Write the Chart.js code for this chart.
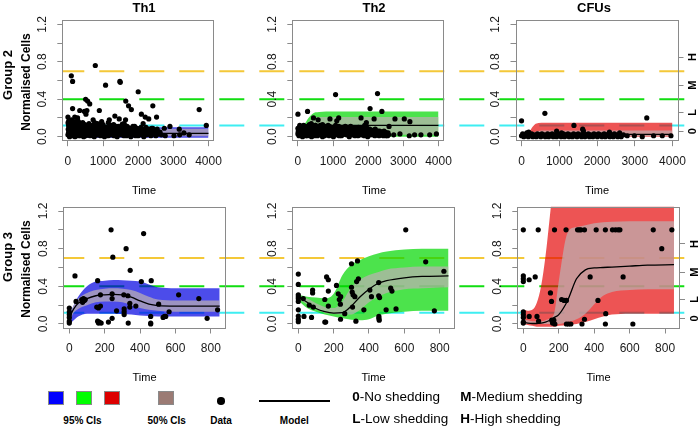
<!DOCTYPE html>
<html>
<head>
<meta charset="utf-8">
<script src="https://cdn.jsdelivr.net/npm/chart.js@4.4.1/dist/chart.umd.min.js"></script>
<style>
html,body{margin:0;padding:0;}
body{width:700px;height:427px;position:relative;overflow:hidden;background:#fff;font-family:"Liberation Sans",Arial,sans-serif;color:#000;}
canvas{position:absolute;}
.lbl{position:absolute;white-space:nowrap;line-height:1;transform:translate(-50%,-50%);}
.rot{transform:translate(-50%,-50%) rotate(-90deg);}
.b{font-weight:bold;}
.sw{position:absolute;box-sizing:border-box;border:1px solid #8a8a8a;width:16px;height:14px;top:391.3px;}
.leg{position:absolute;font-size:13.5px;white-space:nowrap;line-height:1;transform:translateY(-50%);}
</style>
</head>
<body>
<div class="lbl b" style="left:144px;top:7px;font-size:13px">Th1</div>
<div class="lbl b" style="left:374px;top:7px;font-size:13px">Th2</div>
<div class="lbl b" style="left:594px;top:7px;font-size:13px">CFUs</div>
<div class="lbl b rot" style="left:7px;top:75px;font-size:13px">Group 2</div>
<div class="lbl b rot" style="left:26px;top:82px;font-size:12px">Normalised Cells</div>
<div class="lbl b rot" style="left:7px;top:257px;font-size:13px">Group 3</div>
<div class="lbl b rot" style="left:26px;top:269px;font-size:12px">Normalised Cells</div>
<div class="lbl" style="left:144px;top:189.5px;font-size:11px">Time</div>
<div class="lbl" style="left:374px;top:189.5px;font-size:11px">Time</div>
<div class="lbl" style="left:597px;top:189.5px;font-size:11px">Time</div>
<div class="lbl" style="left:144.5px;top:376.5px;font-size:11px">Time</div>
<div class="lbl" style="left:373.5px;top:376.5px;font-size:11px">Time</div>
<div class="lbl" style="left:598.5px;top:376.5px;font-size:11px">Time</div>

<div class="sw" style="left:48.3px;background:#0000ff"></div>
<div class="sw" style="left:75.7px;background:#00ff00"></div>
<div class="sw" style="left:104px;background:#dd0000"></div>
<div class="sw" style="left:157.6px;background:#9b7b74"></div>
<div style="position:absolute;left:217.3px;top:397.3px;width:7.5px;height:7.5px;border-radius:50%;background:#000"></div>
<div style="position:absolute;left:258.7px;top:400.3px;width:71.7px;height:1.6px;background:#000"></div>
<div class="lbl b" style="left:82.5px;top:420.8px;font-size:10px">95% CIs</div>
<div class="lbl b" style="left:166.7px;top:420.8px;font-size:10px">50% CIs</div>
<div class="lbl b" style="left:221px;top:420.8px;font-size:10px">Data</div>
<div class="lbl b" style="left:294.3px;top:420.8px;font-size:10px">Model</div>
<div class="leg" style="left:352.3px;top:396.5px"><b>0</b>-No shedding</div>
<div class="leg" style="left:460.2px;top:396.5px"><b>M</b>-Medium shedding</div>
<div class="leg" style="left:352.3px;top:419px"><b>L</b>-Low shedding</div>
<div class="leg" style="left:460.2px;top:419px"><b>H</b>-High shedding</div>

<script>
// ---------- tick values / labels ----------
const topTicksX = [0, 1000, 2000, 3000, 4000];
const botTicksX = [0, 200, 400, 600, 800];
const yTicks = [0, 0.2, 0.4, 0.6, 0.8, 1.0, 1.2];
const yLabelTicks = [0, 0.4, 0.8, 1.2];
const shedTicks = [0.06, 0.26, 0.55, 0.85];
const shedLabels = ['0', 'L', 'M', 'H'];
const thresholds = [0.7, 0.4, 0.12];
const thresholdColors = ['#f4c838', '#11dd11', '#3eeef2'];

// ---------- Group 2 (top row) ----------
const g2T_th1 = [0, 100, 200, 400, 700, 1000, 1500, 2000, 3000, 4000];
const g2Hi95_th1 = [0.10, 0.14, 0.13, 0.12, 0.11, 0.10, 0.10, 0.10, 0.10, 0.10];
const g2Lo95_th1 = [-0.01, -0.01, -0.01, -0.01, -0.01, -0.01, -0.01, -0.01, -0.01, -0.01];
const g2Hi50_th1 = [0.06, 0.09, 0.09, 0.085, 0.085, 0.085, 0.085, 0.085, 0.085, 0.085];
const g2Lo50_th1 = [0.005, 0.01, 0.01, 0.005, 0.005, 0.005, 0.005, 0.005, 0.005, 0.005];
const g2Model_th1 = [0.035, 0.05, 0.05, 0.045, 0.04, 0.038, 0.037, 0.036, 0.036, 0.036];
const g2Pts_th1 = [
 [0,0.21],[97,0.65],[133,0.59],[133,0.30],[195,0.21],[274,0.17],[336,0.28],[274,0.20],[470,0.27],[504,0.40],[513,0.24],[540,0.28],[560,0.38],[620,0.35],[717,0.18],[779,0.76],[840,0.14],[894,0.28],[1000,0.13],[1071,0.55],[1177,0.18],[1240,0.12],[1336,0.22],[1370,0.11],[1460,0.19],[1478,0.59],[1490,0.58],[1550,0.135],[1640,0.18],[1646,0.38],[1725,0.33],[1805,0.29],[1900,0.11],[2000,0.48],[2090,0.24],[2140,0.14],[2200,0.21],[2200,0.06],[2300,0.19],[2416,0.33],[2416,0.09],[2490,0.04],[2522,0.21],[2743,0.09],[2770,0.01],[2903,0.11],[3018,0.01],[3168,0.08],[3180,0.02],[3300,0.04],[3450,0.02],[3735,0.29],[3938,0.12],
 [5,0.15],[15,0.13],[25,0.17],[40,0.14],[55,0.16],[70,0.13],[85,0.15],[100,0.18],[120,0.12],[150,0.14],[170,0.16],[190,0.13],[230,0.15],[260,0.13],[300,0.16],[350,0.14],[420,0.15],[480,0.13],[600,0.14],[700,0.12],[760,0.15],[900,0.13],[960,0.16],[1150,0.15],[1300,0.13],[1600,0.14],
 [0,0.02],[10,0.08],[20,0.12],[30,0.05],[45,0.00],[60,0.10],[75,0.03],[90,0.07],[110,0.11],[125,0.01],[140,0.06],[160,0.09],[180,0.04],[200,0.00],[220,0.12],[245,0.07],[270,0.02],[290,0.10],[310,0.05],[335,0.08],[360,0.01],[380,0.11],[400,0.04],[425,0.06],[450,0.00],[470,0.09],[490,0.03],[515,0.12],[540,0.06],[560,0.02],[585,0.08],[610,0.10],[630,0.01],[655,0.05],[680,0.11],[700,0.03],[725,0.07],[750,0.00],[770,0.09],[800,0.04],[825,0.12],[850,0.02],[875,0.06],[900,0.10],[925,0.01],[950,0.08],[980,0.04],[1010,0.11],[1040,0.00],[1070,0.07],[1100,0.03],[1130,0.09],[1160,0.05],[1190,0.12],[1220,0.02],[1250,0.06],[1280,0.10],[1310,0.01],[1340,0.08],[1370,0.04],[1400,0.00],[1430,0.11],[1460,0.05],[1490,0.07],[1520,0.02],[1550,0.09],[1580,0.03],[1610,0.12],[1640,0.06],[1670,0.01],[1700,0.10],[1730,0.04],[1760,0.08],[1790,0.00],[1820,0.05],[1850,0.11],[1880,0.02],[1910,0.07],[1940,0.03],[1970,0.09],[2000,0.01],[2040,0.06],[2080,0.10],[2120,0.04],[2160,0.00],[2200,0.08],[2240,0.02],[2280,0.07],[2320,0.05],[2360,0.01],[2400,0.06],[2440,0.03],[2480,0.04],[2520,0.02],[2560,0.05],
 [15,0.04],[35,0.09],[50,0.06],[65,0.01],[80,0.11],[100,0.05],[130,0.08],[150,0.03],[170,0.12],[190,0.07],[210,0.02],[235,0.10],[255,0.04],[280,0.08],[300,0.01],[320,0.11],[345,0.03],[370,0.07],[390,0.09],[415,0.02],[440,0.10],[460,0.05],[480,0.08],[505,0.01],[530,0.10],[550,0.04],[575,0.11],[595,0.05],[620,0.07],[645,0.03],[670,0.09],[690,0.06],[715,0.01],[740,0.10],[760,0.05],[790,0.08],[815,0.02],[840,0.07],[865,0.11],[890,0.04],[915,0.09],[940,0.02],[965,0.11],[995,0.06],[1025,0.09],[1055,0.03],[1085,0.10],[1115,0.06],[1145,0.01],[1175,0.08],[1205,0.04],[1235,0.10],[1265,0.03],[1295,0.07],[1325,0.11],[1355,0.02],[1385,0.09],[1415,0.06],[1445,0.02],[1475,0.10],[1505,0.05],[1535,0.12],[1565,0.06],[1595,0.01],[1625,0.08],[1655,0.04],[1685,0.11],[1715,0.07],[1745,0.02],[1775,0.09],[1805,0.05],[1835,0.08],[1865,0.06],[1895,0.10],[1925,0.01],[1955,0.05],[1985,0.07],[2020,0.03],[2060,0.09],[2100,0.02],[2140,0.07],[2180,0.05],[2220,0.10],[2260,0.04],[2300,0.08],[2340,0.02],[2380,0.09],[2420,0.04],[2460,0.07],[2500,0.01],[2540,0.08],[2580,0.03],[2620,0.05],[2660,0.02]
];

const g2T_th2 = [0, 100, 200, 300, 400, 500, 600, 800, 1000, 2000, 4000];
const g2Hi95_th2 = [0.08, 0.10, 0.14, 0.20, 0.24, 0.26, 0.265, 0.27, 0.27, 0.27, 0.27];
const g2Lo95_th2 = [0.0, 0.0, 0.0, 0.0, 0.0, 0.0, 0.0, 0.0, 0.0, 0.0, 0.0];
const g2Hi50_th2 = [0.07, 0.08, 0.11, 0.16, 0.19, 0.205, 0.21, 0.21, 0.21, 0.21, 0.21];
const g2Lo50_th2 = [0.02, 0.02, 0.02, 0.02, 0.02, 0.02, 0.02, 0.02, 0.02, 0.02, 0.02];
const g2Model_th2 = [0.05, 0.06, 0.08, 0.10, 0.11, 0.115, 0.12, 0.12, 0.12, 0.12, 0.12];
const g2Pts_th2 = [
 [0,0.24],[0,0.09],[40,0.06],[274,0.27],[380,0.14],[442,0.20],[500,0.12],[575,0.18],[700,0.13],[820,0.10],[912,0.19],[1071,0.45],[1106,0.17],[1160,0.20],[1300,0.09],[1500,0.11],[1796,0.20],[1900,0.12],[1947,0.15],[1947,0.11],[2053,0.30],[2168,0.19],[2200,0.08],[2265,0.46],[2389,0.27],[2450,0.06],[2500,0.03],[2593,0.11],[2726,0.02],[2761,0.19],[2903,0.03],[3027,0.19],[3186,0.16],[3168,0.01],[3320,0.02],[3500,0.02],[3750,0.02],[3940,0.03],
 [0,0.03],[15,0.07],[30,0.01],[45,0.10],[60,0.05],[80,0.02],[95,0.08],[115,0.04],[130,0.00],[150,0.09],[170,0.06],[185,0.02],[205,0.11],[225,0.04],[245,0.07],[265,0.01],[285,0.09],[305,0.05],[325,0.13],[345,0.03],[365,0.08],[390,0.00],[410,0.06],[430,0.10],[455,0.02],[475,0.07],[495,0.12],[520,0.04],[540,0.09],[560,0.01],[585,0.06],[605,0.11],[630,0.03],[650,0.08],[675,0.05],[700,0.00],[720,0.10],[745,0.04],[770,0.07],[790,0.02],[815,0.09],[840,0.05],[860,0.12],[885,0.01],[910,0.06],[935,0.09],[960,0.03],[985,0.07],[1010,0.00],[1035,0.10],[1060,0.05],[1085,0.08],[1110,0.02],[1135,0.06],[1160,0.11],[1185,0.04],[1210,0.08],[1235,0.01],[1260,0.07],[1285,0.10],[1310,0.03],[1335,0.06],[1360,0.09],[1385,0.02],[1410,0.05],[1435,0.08],[1460,0.00],[1485,0.04],[1510,0.07],[1535,0.10],[1560,0.02],[1585,0.06],[1610,0.09],[1635,0.03],[1660,0.05],[1685,0.08],[1710,0.01],[1735,0.06],[1760,0.04],[1785,0.09],[1810,0.02],[1835,0.07],[1860,0.05],[1885,0.01],[1910,0.08],[1935,0.03],[1960,0.06],[1985,0.00],[2010,0.04],[2040,0.08],[2070,0.02],[2100,0.06],[2130,0.03],[2160,0.07],[2190,0.01],[2220,0.05],[2250,0.03],[2280,0.06],[2310,0.01],[2340,0.04],[2370,0.02],[2400,0.05],[2430,0.01],[2460,0.03],[2490,0.02],[2520,0.04],[2550,0.01],[2580,0.02],
 [8,0.05],[22,0.09],[38,0.04],[52,0.12],[70,0.07],[88,0.03],[105,0.10],[122,0.06],[140,0.02],[160,0.12],[178,0.04],[195,0.08],[215,0.01],[235,0.09],[255,0.05],[275,0.11],[295,0.03],[315,0.07],[335,0.10],[355,0.01],[378,0.05],[400,0.12],[420,0.03],[442,0.08],[465,0.05],[485,0.01],[508,0.09],[530,0.06],[550,0.02],[572,0.10],[595,0.04],[618,0.07],[640,0.12],[662,0.02],[688,0.09],[710,0.05],[732,0.07],[757,0.01],[780,0.11],[802,0.05],[828,0.03],[850,0.08],[872,0.06],[898,0.11],[922,0.03],[948,0.05],[972,0.10],[998,0.04],[1022,0.07],[1048,0.02],[1072,0.12],[1098,0.06],[1122,0.04],[1148,0.09],[1172,0.01],[1198,0.06],[1222,0.10],[1248,0.04],[1272,0.02],[1298,0.08],[1322,0.05],[1348,0.11],[1372,0.06],[1398,0.03],[1422,0.10],[1448,0.05],[1472,0.07],[1498,0.02],[1522,0.09],[1548,0.05],[1572,0.03],[1598,0.07],[1622,0.01],[1648,0.09],[1672,0.04],[1698,0.06],[1722,0.10],[1748,0.02],[1772,0.07],[1798,0.05],[1822,0.09],[1848,0.03],[1872,0.06],[1898,0.02],[1922,0.09],[1948,0.04],[1972,0.07],[1998,0.02],[2025,0.06],[2055,0.03],[2085,0.07],[2115,0.04],[2145,0.02],[2175,0.06],[2205,0.03],[2235,0.06],[2265,0.02],[2295,0.04],[2325,0.06],[2355,0.03],[2385,0.05],[2415,0.02],[2445,0.04],[2475,0.05],[2505,0.01],[2535,0.03],[2565,0.04]
];

const g2T_cfu = [0, 150, 250, 350, 450, 600, 1000, 2000, 4000];
const g2Hi95_cfu = [0.0, 0.02, 0.08, 0.13, 0.145, 0.15, 0.15, 0.15, 0.15];
const g2Lo95_cfu = [0.0, 0.0, 0.0, 0.0, 0.0, 0.0, 0.0, 0.0, 0.0];
const g2Hi50_cfu = [0.0, 0.01, 0.03, 0.05, 0.06, 0.065, 0.065, 0.065, 0.065];
const g2Lo50_cfu = [0.0, 0.0, 0.0, 0.0, 0.005, 0.005, 0.005, 0.005, 0.005];
const g2Model_cfu = [0.01, 0.01, 0.015, 0.02, 0.025, 0.025, 0.025, 0.025, 0.025];
const g2Pts_cfu = [
 [0,0.17],[140,0.04],[190,0.05],[619,0.25],[930,0.06],[1060,0.04],[1389,0.12],[1620,0.08],[1640,0.06],[2330,0.05],[2600,0.04],[3319,0.20],[2700,0.02],[2800,0.01],[2990,0.01],[3200,0.0],[3500,0.01],[3730,0.01],[3960,0.01],
 [0,0.01],[30,0.03],[60,0.0],[90,0.02],[120,0.01],[150,0.03],[180,0.0],[210,0.02],[240,0.01],[270,0.03],[300,0.0],[330,0.02],[360,0.01],[390,0.0],[420,0.03],[450,0.01],[480,0.02],[510,0.0],[540,0.03],[570,0.01],[600,0.02],[630,0.0],[660,0.01],[690,0.03],[720,0.0],[750,0.02],[780,0.01],[810,0.03],[840,0.0],[870,0.02],[900,0.01],[930,0.0],[960,0.03],[990,0.01],[1020,0.02],[1050,0.0],[1080,0.01],[1110,0.03],[1140,0.0],[1170,0.02],[1200,0.01],[1230,0.03],[1260,0.0],[1290,0.02],[1320,0.01],[1350,0.0],[1380,0.03],[1410,0.01],[1440,0.02],[1470,0.0],[1500,0.03],[1530,0.01],[1560,0.02],[1590,0.0],[1620,0.01],[1650,0.03],[1680,0.0],[1710,0.02],[1740,0.01],[1770,0.03],[1800,0.0],[1830,0.02],[1860,0.01],[1890,0.0],[1920,0.03],[1950,0.01],[1980,0.02],[2010,0.0],[2040,0.03],[2070,0.01],[2100,0.02],[2130,0.0],[2160,0.01],[2190,0.03],[2220,0.0],[2250,0.02],[2280,0.01],[2310,0.03],[2340,0.0],[2370,0.02],[2400,0.01],[2430,0.0],[2460,0.03],[2490,0.01],[2520,0.02],[2550,0.0],[2580,0.01],[2610,0.02],[2640,0.0]
];

// ---------- Group 3 (bottom row) ----------
const g3T_th1 = [0, 25, 50, 100, 150, 200, 250, 300, 350, 400, 450, 500, 600, 700, 850];
const g3Hi95_th1 = [0.10, 0.20, 0.29, 0.40, 0.45, 0.46, 0.467, 0.465, 0.46, 0.45, 0.42, 0.39, 0.38, 0.38, 0.38];
const g3Lo95_th1 = [0.0, 0.04, 0.08, 0.11, 0.11, 0.11, 0.11, 0.105, 0.10, 0.09, 0.085, 0.08, 0.08, 0.08, 0.08];
const g3Hi50_th1 = [0.06, 0.20, 0.27, 0.33, 0.36, 0.375, 0.38, 0.375, 0.36, 0.33, 0.29, 0.26, 0.25, 0.25, 0.25];
const g3Lo50_th1 = [0.03, 0.12, 0.16, 0.20, 0.23, 0.24, 0.24, 0.23, 0.20, 0.17, 0.15, 0.14, 0.13, 0.13, 0.13];
const g3Model_th1 = [0.07, 0.16, 0.22, 0.27, 0.30, 0.31, 0.315, 0.31, 0.285, 0.245, 0.21, 0.195, 0.19, 0.19, 0.19];
const g3Pts_th1 = [
 [0,0.17],[0,0.13],[0,0.10],[0,0.07],[0,0.03],[0,0.01],
 [32,0.51],[38,0.24],[70,0.26],[75,0.23],[80,0.27],[85,0.25],[90,0.26],
 [160,0.46],[155,0.18],[165,0.17],[160,0.03],[165,0.01],[170,0.02],[180,0.01],[176,0.19],[176,0.31],
 [221,0.02],[236,1.0],[246,0.71],[242,0.32],[242,0.27],[242,0.06],[267,0.14],
 [308,0.31],[310,0.16],[310,0.13],[310,0.10],[321,0.80],[344,0.57],[331,0.30],[342,0.22],[342,0.18],[333,0.01],
 [376,0.19],[407,0.45],[420,0.96],[463,0.46],[460,0.08],[460,0.01],[460,0.0],[505,0.21],[530,0.07],[538,0.08],[545,0.08],[564,0.13],[618,0.31],[732,0.27],[779,0.06],[838,0.15]
];

const g3T_th2 = [0, 50, 100, 150, 200, 250, 300, 350, 400, 450, 500, 600, 700, 850];
const g3Hi95_th2 = [0.31, 0.29, 0.28, 0.27, 0.32, 0.52, 0.63, 0.68, 0.72, 0.75, 0.77, 0.79, 0.80, 0.80];
const g3Lo95_th2 = [0.25, 0.17, 0.13, 0.10, 0.08, 0.06, 0.045, 0.04, 0.05, 0.09, 0.11, 0.13, 0.14, 0.14];
const g3Hi50_th2 = [0.29, 0.27, 0.22, 0.18, 0.17, 0.24, 0.39, 0.47, 0.52, 0.55, 0.58, 0.60, 0.61, 0.61];
const g3Lo50_th2 = [0.27, 0.21, 0.16, 0.12, 0.11, 0.10, 0.10, 0.15, 0.23, 0.29, 0.33, 0.37, 0.38, 0.39];
const g3Model_th2 = [0.29, 0.23, 0.165, 0.13, 0.115, 0.12, 0.19, 0.29, 0.37, 0.43, 0.46, 0.49, 0.505, 0.51];
const g3Pts_th2 = [
 [0,0.53],[0,0.42],[0,0.31],[0,0.29],[0,0.27],[0,0.24],[0,0.15],[0,0.085],[0,0.05],[0,0.025],
 [28,0.27],[32,0.08],[62,0.20],[75,0.07],[81,0.36],[81,0.33],[85,0.18],
 [150,0.02],[155,0.02],[150,0.26],[160,0.50],[170,0.47],[170,0.35],[170,0.19],
 [216,0.41],[226,0.32],[232,0.26],[238,0.21],[240,0.29],[239,0.05],[263,0.11],
 [301,0.64],[301,0.39],[305,0.34],[310,0.31],[307,0.18],[326,0.03],[330,0.45],[340,0.48],[335,0.67],[320,0.29],
 [371,0.15],[405,0.36],[414,0.29],[455,0.44],[455,0.30],[460,0.28],[456,0.08],[456,0.06],[458,0.04],
 [497,0.15],[523,0.38],[530,0.35],[553,0.16],[608,1.0],[721,0.66],[770,0.14],[824,0.56]
];

const g3T_cfu = [0, 25, 50, 75, 100, 125, 150, 175, 200, 250, 300, 350, 400, 450, 500, 600, 700, 850];
const g3Hi95_cfu = [0.15, 0.14, 0.15, 0.22, 0.40, 0.72, 1.15, 1.60, 1.90, 2.0, 2.0, 2.0, 2.0, 2.0, 2.0, 2.0, 2.0, 2.0];
const g3Lo95_cfu = [0.0, -0.01, -0.02, -0.03, -0.03, -0.03, -0.03, -0.03, -0.02, -0.01, 0.0, 0.02, 0.05, 0.08, 0.10, 0.11, 0.11, 0.11];
const g3Hi50_cfu = [0.05, 0.04, 0.03, 0.03, 0.03, 0.04, 0.06, 0.12, 0.45, 0.97, 1.03, 1.05, 1.07, 1.08, 1.085, 1.09, 1.09, 1.09];
const g3Lo50_cfu = [0.0, 0.0, 0.0, 0.0, 0.0, 0.0, 0.0, 0.0, 0.0, 0.02, 0.05, 0.11, 0.21, 0.30, 0.34, 0.36, 0.37, 0.37];
const g3Model_cfu = [0.02, 0.01, 0.005, 0.005, 0.01, 0.02, 0.04, 0.07, 0.10, 0.25, 0.48, 0.575, 0.595, 0.60, 0.605, 0.615, 0.625, 0.63];
const g3Pts_cfu = [
 [0,1.0],[0,0.51],[0,0.48],[0,0.45],[0,0.13],[0,0.10],[0,0.07],[0,0.02],[0,0.01],
 [33,0.08],[33,0.47],[67,0.50],[77,0.08],[84,1.0],[86,0.03],
 [153,0.33],[159,0.24],[160,0.04],[165,0.01],[172,0.04],[178,0.0],[176,1.0],
 [216,0.26],[230,0.25],[243,0.25],[241,1.0],[243,0.0],[255,0.0],[268,0.0],
 [306,1.0],[316,1.0],[325,1.0],[345,1.0],[331,0.0],[345,0.05],[377,0.50],
 [411,1.0],[421,0.25],[463,1.0],[465,0.11],[463,0.0],
 [503,1.0],[520,1.0],[535,1.0],[545,1.0],[563,0.50],[618,0.0],[733,1.0],[781,0.80],[838,1.0]
];

// ---------- styling ----------
const blue95 = 'rgba(0,0,225,0.70)';
const green95 = 'rgba(0,215,0,0.70)';
const red95 = 'rgba(228,0,0,0.67)';
const ci50 = 'rgba(188,176,178,0.72)';
const axisGray = '#8a8a8a';
const textCol = '#1a1a1a';

const panels = [
 {left:0,   top:0,   w:230, h:200, area:{l:62.3,r:225.7,t:19.8,b:141.2}, xr:[-160,4160], xt:topTicksX, T:g2T_th1, hi95:g2Hi95_th1, lo95:g2Lo95_th1, hi50:g2Hi50_th1, lo50:g2Lo50_th1, model:g2Model_th1, pts:g2Pts_th1, color:blue95, start:'area', shed:false},
 {left:230, top:0,   w:230, h:200, area:{l:62.3,r:225.7,t:19.8,b:141.2}, xr:[-160,4160], xt:topTicksX, T:g2T_th2, hi95:g2Hi95_th2, lo95:g2Lo95_th2, hi50:g2Hi50_th2, lo50:g2Lo50_th2, model:g2Model_th2, pts:g2Pts_th2, color:green95, start:0, shed:false},
 {left:460, top:0,   w:240, h:200, area:{l:55.5,r:218.5,t:19.8,b:141.2}, xr:[-160,4160], xt:topTicksX, T:g2T_cfu, hi95:g2Hi95_cfu, lo95:g2Lo95_cfu, hi50:g2Hi50_cfu, lo50:g2Lo50_cfu, model:g2Model_cfu, pts:g2Pts_cfu, color:red95, start:0, shed:true},
 {left:0,   top:200, w:230, h:190, area:{l:63.3,r:225.7,t:6.5,b:128.5}, xr:[-34,884], xt:botTicksX, T:g3T_th1, hi95:g3Hi95_th1, lo95:g3Lo95_th1, hi50:g3Hi50_th1, lo50:g3Lo50_th1, model:g3Model_th1, pts:g3Pts_th1, color:blue95, start:'area', shed:false},
 {left:230, top:200, w:230, h:190, area:{l:62.3,r:224.5,t:6.5,b:128.5}, xr:[-34,884], xt:botTicksX, T:g3T_th2, hi95:g3Hi95_th2, lo95:g3Lo95_th2, hi50:g3Hi50_th2, lo50:g3Lo50_th2, model:g3Model_th2, pts:g3Pts_th2, color:green95, start:0, shed:false},
 {left:460, top:200, w:240, h:190, area:{l:57.3,r:220,t:6.5,b:128.5}, xr:[-34,884], xt:botTicksX, T:g3T_cfu, hi95:g3Hi95_cfu, lo95:g3Lo95_cfu, hi50:g3Hi50_cfu, lo50:g3Lo50_cfu, model:g3Model_cfu, pts:g3Pts_cfu, color:red95, start:0, shed:true}
];

const decoPlugin = {
  id: 'deco',
  beforeDatasetsDraw(chart, args, o) {
    const ctx = chart.ctx, a = chart.chartArea, ys = chart.scales.y;
    const x0 = o.start === 'area' ? a.left : 0;
    const x1 = o.end;
    ctx.save();
    ctx.lineWidth = 2;
    ctx.setLineDash([25, 15]);
    ctx.lineDashOffset = (((o.pageLeft + x0 - 19.3) % 40) + 40) % 40;
    thresholds.forEach((v, i) => {
      const py = ys.getPixelForValue(v);
      ctx.strokeStyle = thresholdColors[i];
      ctx.beginPath(); ctx.moveTo(x0, py); ctx.lineTo(x1, py); ctx.stroke();
    });
    ctx.restore();
  },
  afterDraw(chart, args, o) {
    const ctx = chart.ctx, a = chart.chartArea, ys = chart.scales.y;
    ctx.save();
    ctx.strokeStyle = axisGray; ctx.lineWidth = 1; ctx.setLineDash([]);
    const L = Math.round(a.left) + 0.5, R = Math.round(a.right) - 0.5, T = Math.round(a.top) + 0.5, B = Math.round(a.bottom) - 0.5;
    ctx.strokeRect(L, T, R - L, B - T);
    ctx.fillStyle = textCol;
    ctx.textAlign = 'center'; ctx.textBaseline = 'middle';
    ctx.font = '12px "Liberation Sans"';
    yLabelTicks.forEach(v => {
      ctx.save();
      ctx.translate(a.left - 19.5, ys.getPixelForValue(v));
      ctx.rotate(-Math.PI / 2);
      ctx.fillText(v.toFixed(1), 0, 0);
      ctx.restore();
    });
    if (o.shed) {
      ctx.font = 'bold 11px "Liberation Sans"';
      ctx.fillStyle = '#000';
      shedTicks.forEach((v, i) => {
        ctx.save();
        ctx.translate(a.right + 14.5, chart.scales.y2.getPixelForValue(v));
        ctx.rotate(-Math.PI / 2);
        ctx.fillText(shedLabels[i], 0, 0);
        ctx.restore();
      });
    }
    ctx.restore();
  }
};

panels.forEach(p => {
  const cv = document.createElement('canvas');
  cv.width = p.w; cv.height = p.h;
  cv.style.left = p.left + 'px'; cv.style.top = p.top + 'px';
  cv.style.width = p.w + 'px'; cv.style.height = p.h + 'px';
  document.body.insertBefore(cv, document.body.firstChild);
  const series = arr => p.T.map((t, i) => ({x: t, y: arr[i]}));
  const hidden = {borderColor: 'rgba(0,0,0,0)', borderWidth: 0, pointRadius: 0, fill: false, cubicInterpolationMode: 'monotone'};
  const datasets = [
    Object.assign({}, hidden, {data: series(p.lo95), order: 3}),
    Object.assign({}, hidden, {data: series(p.hi95), order: 3, fill: '-1', backgroundColor: p.color}),
    Object.assign({}, hidden, {data: series(p.lo50), order: 2}),
    Object.assign({}, hidden, {data: series(p.hi50), order: 2, fill: '-1', backgroundColor: ci50}),
    {data: series(p.model), order: 1, borderColor: '#000', borderWidth: 1.3, pointRadius: 0, fill: false, cubicInterpolationMode: 'monotone'},
    {data: p.pts.map(([x, y]) => ({x, y})), order: 0, showLine: false, pointRadius: 2.6, pointBackgroundColor: '#000', pointBorderWidth: 0, borderColor: '#000', backgroundColor: '#000', fill: false}
  ];
  const tickGrid = {drawOnChartArea: false, drawTicks: true, tickLength: 5, color: axisGray, lineWidth: 1};
  const scales = {
    x: {type: 'linear', min: p.xr[0], max: p.xr[1],
        afterBuildTicks: s => { s.ticks = p.xt.map(v => ({value: v})); },
        afterFit: s => { s.height = p.h - p.area.b; },
        ticks: {autoSkip: false, maxRotation: 0, minRotation: 0, padding: 8, color: textCol, font: {size: 12, family: 'Liberation Sans'}, callback: v => String(v)},
        grid: tickGrid, border: {display: false}},
    y: {type: 'linear', min: -0.048, max: 1.248,
        afterBuildTicks: s => { s.ticks = yTicks.map(v => ({value: v})); },
        afterFit: s => { s.width = p.area.l; },
        ticks: {display: false}, grid: tickGrid, border: {display: false}}
  };
  if (p.shed) {
    scales.y2 = {type: 'linear', position: 'right', min: -0.048, max: 1.248,
        afterBuildTicks: s => { s.ticks = shedTicks.map(v => ({value: v})); },
        afterFit: s => { s.width = p.w - p.area.r; },
        ticks: {display: false}, grid: tickGrid, border: {display: false}};
  }
  new Chart(cv, {
    type: 'line',
    data: {datasets},
    options: {
      responsive: false, animation: false, devicePixelRatio: 1, events: [],
      layout: {padding: {top: p.area.t, right: p.shed ? 0 : p.w - p.area.r, left: 0, bottom: 0}},
      scales,
      plugins: {
        legend: {display: false}, tooltip: {enabled: false},
        deco: {pageLeft: p.left, start: p.start, end: p.shed ? 689 - p.left : p.w, shed: p.shed}
      }
    },
    plugins: [decoPlugin]
  });
});
</script>
</body>
</html>
